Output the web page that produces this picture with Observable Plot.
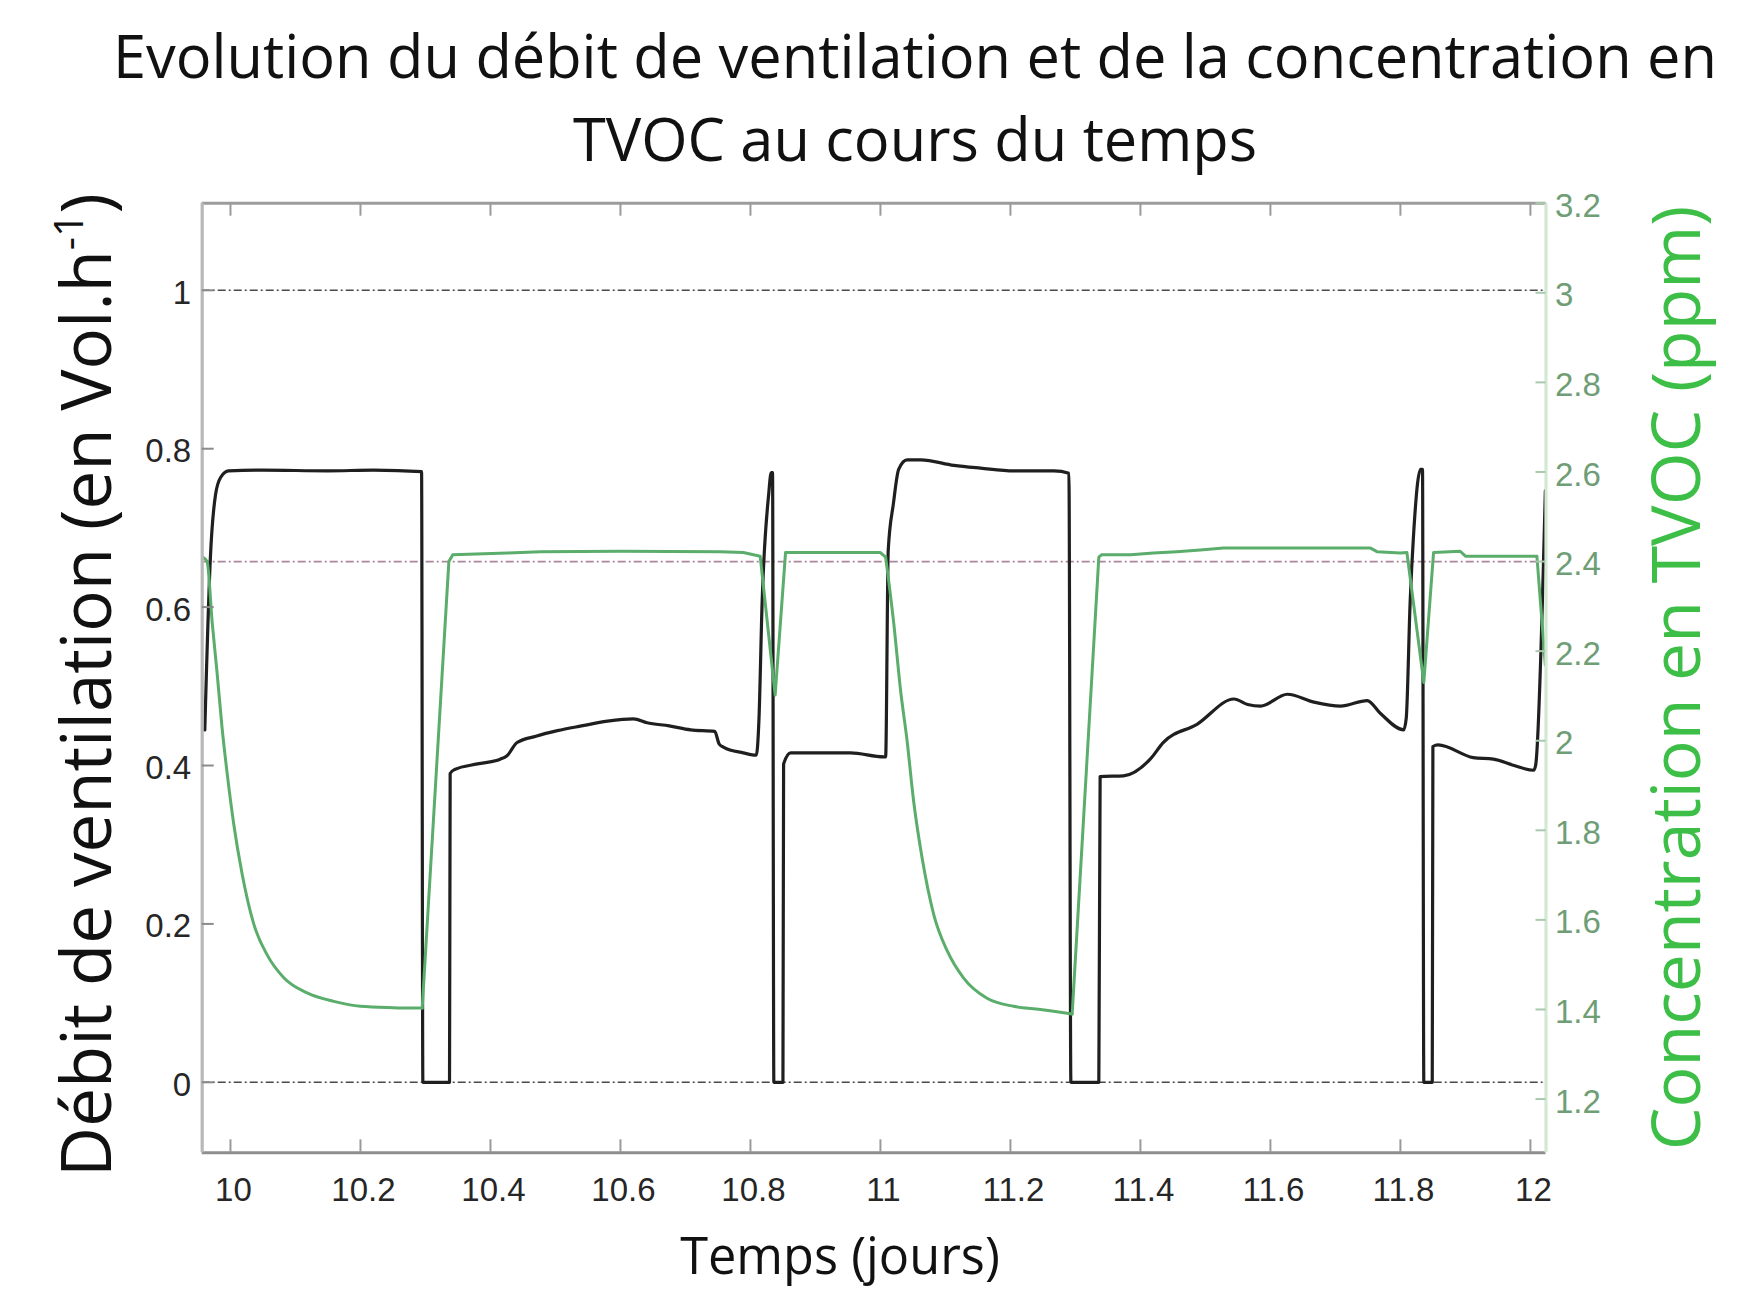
<!DOCTYPE html>
<html>
<head>
<meta charset="utf-8">
<script src="https://cdn.jsdelivr.net/npm/d3@7"></script>
<script src="https://cdn.jsdelivr.net/npm/@observablehq/plot@0.6"></script>
<style>
html, body { margin: 0; padding: 0; background: #fff; }
#wrap { position: relative; width: 1737px; height: 1290px; overflow: hidden; background: #fff; }
#title { position: absolute; left: 915px; top: 13px; transform: translateX(-50%);
  font-family: "Open Sans", sans-serif; font-size: 59.5px; line-height: 83px;
  text-align: center; white-space: nowrap; color: #111; }
#chart { position: absolute; left: 0; top: 180px; }
</style>
</head>
<body>
<div id="wrap">
  <div id="title">Evolution du débit de ventilation et de la concentration en<br>TVOC au cours du temps</div>
  <div id="chart"></div>
</div>
<script>
// ---- Data ----
const timeVent = [9.9605, 9.969, 9.977, 9.985, 9.997, 10.05, 10.15, 10.22, 10.294, 10.296,
  10.337, 10.338, 10.345, 10.38, 10.415, 10.425, 10.441, 10.47, 10.503, 10.54,
  10.58, 10.62, 10.641, 10.675, 10.708, 10.745, 10.752, 10.759, 10.789, 10.809,
  10.813, 10.818, 10.828, 10.832, 10.834, 10.836, 10.85, 10.851, 10.862, 10.954,
  11.005, 11.008, 11.012, 11.02, 11.028, 11.041, 11.062, 11.113, 11.154, 11.205,
  11.267, 11.29, 11.293, 11.336, 11.338, 11.374, 11.415, 11.435, 11.487, 11.544,
  11.565, 11.585, 11.626, 11.667, 11.708, 11.749, 11.769, 11.805, 11.809, 11.815,
  11.82, 11.831, 11.834, 11.836, 11.849, 11.85, 11.858, 11.912, 11.943, 11.975,
  12.005, 12.008, 12.023];
const valVent = [0.445, 0.661, 0.742, 0.764, 0.772, 0.773, 0.772, 0.773, 0.771, 0,
  0, 0.39, 0.395, 0.402, 0.408, 0.412, 0.429, 0.437, 0.444, 0.45,
  0.456, 0.459, 0.454, 0.45, 0.445, 0.443, 0.427, 0.423, 0.416, 0.413,
  0.456, 0.607, 0.742, 0.77, 0.77, 0, 0, 0.402, 0.416, 0.416,
  0.411, 0.411, 0.672, 0.731, 0.774, 0.786, 0.786, 0.779, 0.7755, 0.772,
  0.772, 0.769, 0, 0, 0.386, 0.387, 0.408, 0.429, 0.452, 0.484,
  0.477, 0.475, 0.49, 0.48, 0.475, 0.482, 0.466, 0.445, 0.46, 0.607,
  0.688, 0.774, 0.774, 0, 0, 0.424, 0.426, 0.41, 0.408, 0.4,
  0.394, 0.4, 0.747];

const timeTvoc = [9.957, 9.964, 9.972, 9.9795, 9.987, 9.995, 10.005, 10.018, 10.036, 10.056,
  10.082, 10.118, 10.159, 10.2, 10.25, 10.295, 10.336, 10.342, 10.426, 10.477,
  10.6, 10.754, 10.789, 10.815, 10.838, 10.854, 10.95, 11.0, 11.008, 11.0205,
  11.031, 11.041, 11.051, 11.064, 11.082, 11.103, 11.128, 11.164, 11.205, 11.246,
  11.295, 11.336, 11.34, 11.385, 11.42, 11.456, 11.492, 11.528, 11.754, 11.764,
  11.8, 11.81, 11.836, 11.851, 11.892, 11.9, 12.01, 12.023];
const valTvoc = [2.41, 2.40, 2.262, 2.15, 2.03, 1.926, 1.814, 1.702, 1.59, 1.523,
  1.471, 1.437, 1.418, 1.407, 1.404, 1.403, 2.40, 2.415, 2.419, 2.422,
  2.423, 2.422, 2.42, 2.412, 2.102, 2.42, 2.42, 2.42, 2.41, 2.262,
  2.112, 2.0, 1.866, 1.739, 1.612, 1.53, 1.47, 1.425, 1.407, 1.4,
  1.39, 2.41, 2.415, 2.415, 2.419, 2.422, 2.426, 2.43, 2.43, 2.422,
  2.419, 2.42, 2.13, 2.42, 2.423, 2.412, 2.412, 2.169];
// time spans (days) where TVOC decays smoothly (drawn with a smooth curve)
const decayStart = [9.957, 11.008];
const decayEnd = [10.295, 11.295];

const xTicks = [10, 10.2, 10.4, 10.6, 10.8, 11, 11.2, 11.4, 11.6, 11.8, 12];
const leftTicks = [0, 0.2, 0.4, 0.6, 0.8, 1];
const rightTicks = [1.2, 1.4, 1.6, 1.8, 2, 2.2, 2.4, 2.6, 2.8, 3, 3.2];
const refLeft = [0, 1];
const refRight = [2.4];

const xDomain = [9.9565, 12.024];
const leftDomain = [-0.089, 1.11];
const rightDomain = [1.08, 3.2];

// map a right-axis (TVOC) value onto the left scale
const toLeft = r => leftDomain[0] + (r - rightDomain[0]) / (rightDomain[1] - rightDomain[0]) * (leftDomain[1] - leftDomain[0]);
const fromLeft = l => rightDomain[0] + (l - leftDomain[0]) / (leftDomain[1] - leftDomain[0]) * (rightDomain[1] - rightDomain[0]);

const W = 1737, H = 1110;
const mL = 201.7, mR = 191.5, mT = 22.7, mB = 137.7;
const frameW = W - mL - mR, frameH = H - mT - mB;
const fmt = d => String(+(+d).toFixed(1));

const ventIdx = d3.range(timeVent.length);
const tvocIdx = d3.range(timeTvoc.length);
const inDecay = t => decayStart.some((s, k) => t >= s && t <= decayEnd[k]);
const insideDecay = t => decayStart.some((s, k) => t > s && t < decayEnd[k]);

const greenStyle = { stroke: "#5aad6b", strokeWidth: 3 };

const chart = Plot.plot({
  width: W, height: H,
  marginLeft: mL, marginRight: mR, marginTop: mT, marginBottom: mB,
  style: { fontFamily: "'Liberation Sans', Arial, sans-serif", fontSize: "33px", background: "#fff", color: "#262626", overflow: "visible" },
  x: { domain: xDomain },
  y: { domain: leftDomain },
  marks: [
    // reference lines
    Plot.ruleY(refLeft, { stroke: "#4a4a4a", strokeWidth: 1.6, strokeDasharray: "8,3,2,3" }),
    Plot.ruleY(refRight, { y: d => toLeft(d), stroke: "#a8879a", strokeWidth: 1.8, strokeDasharray: "8,3,2,3" }),
    // ventilation
    Plot.line(ventIdx, { x: i => timeVent[i], y: i => valVent[i], stroke: "#1f1f1f", strokeWidth: 3.2, curve: "monotone-x" }),
    // TVOC: straight pieces
    Plot.line(tvocIdx, { x: i => timeTvoc[i], y: i => insideDecay(timeTvoc[i]) ? NaN : toLeft(valTvoc[i]), curve: "linear", ...greenStyle }),
    // TVOC: smooth decays
    Plot.line(tvocIdx, { x: i => timeTvoc[i], y: i => inDecay(timeTvoc[i]) ? toLeft(valTvoc[i]) : NaN, curve: "monotone-x", ...greenStyle }),
    // frame
    Plot.ruleY([leftDomain[1]], { stroke: "#9c9c9c", strokeWidth: 3 }),
    Plot.ruleY([leftDomain[0]], { stroke: "#8e8e8e", strokeWidth: 3 }),
    Plot.ruleX([xDomain[0]], { stroke: "#b8b8b8", strokeWidth: 3.2 }),
    Plot.ruleX([xDomain[1]], { stroke: "#d3e8d3", strokeWidth: 3.2 }),
    // inward ticks
    Plot.tickX(xTicks, { x: d => d, insetTop: frameH - 13, stroke: "#9a9a9a", strokeWidth: 2 }),
    Plot.tickX(xTicks, { x: d => d, insetBottom: frameH - 13, stroke: "#9a9a9a", strokeWidth: 2 }),
    Plot.tickY(leftTicks, { y: d => d, insetRight: frameW - 12, stroke: "#8a8a8a", strokeWidth: 2 }),
    Plot.tickY(rightTicks, { y: d => toLeft(d), insetLeft: frameW - 10, stroke: "#a9c9ad", strokeWidth: 2 }),
    // tick labels
    Plot.axisX(xTicks, { anchor: "bottom", tickSize: 0, tickPadding: 25, dx: 3, label: null, tickFormat: fmt, fill: "#262626", fontSize: 33 }),
    Plot.axisY(leftTicks, { anchor: "left", tickSize: 0, tickPadding: 11, dy: 3, label: null, tickFormat: fmt, fill: "#262626", fontSize: 33 }),
    Plot.axisY(rightTicks.map(toLeft), { anchor: "right", tickSize: 0, tickPadding: 9, dy: 3, label: null, tickFormat: d => fmt(fromLeft(d)), fill: "#6f9e76", fontSize: 33 })
  ]
});

document.getElementById("chart").appendChild(chart);

// axis titles
const svg = d3.select(chart);
const yl = svg.append("text")
  .attr("transform", "translate(111,505) rotate(-90)")
  .attr("text-anchor", "middle")
  .attr("font-family", "'Open Sans', sans-serif")
  .attr("font-size", 69)
  .attr("fill", "#111");
yl.append("tspan").text("Débit de ventilation (en Vol.h");
yl.append("tspan").attr("font-size", 41).attr("dy", -28).text("-1");
yl.append("tspan").attr("dy", 28).text(")");

svg.append("text")
  .attr("transform", "translate(1700,498) rotate(-90)")
  .attr("text-anchor", "middle")
  .attr("font-family", "'Open Sans', sans-serif")
  .attr("font-size", 68)
  .attr("fill", "#3dbf47")
  .text("Concentration en TVOC (ppm)");

svg.append("text")
  .attr("x", 840).attr("y", 1094)
  .attr("text-anchor", "middle")
  .attr("font-family", "'Open Sans', sans-serif")
  .attr("font-size", 50.5)
  .attr("fill", "#111")
  .text("Temps (jours)");
</script>
</body>
</html>
